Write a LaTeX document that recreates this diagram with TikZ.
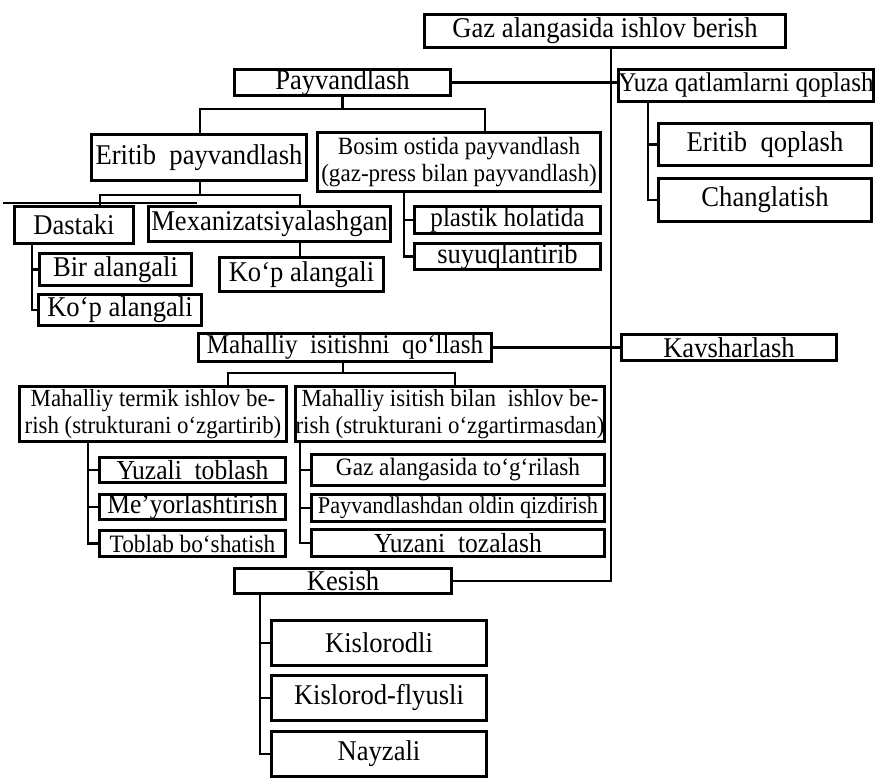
\documentclass[tikz,border=0pt]{standalone}
\usepackage{fontspec}
\setmainfont{Liberation Serif}[FakeStretch=0.93]
\newcommand\fsz[2]{\fontsize{#1}{#2}\selectfont}
\tikzset{
  box/.style={draw, line width=3.2pt, inner sep=0pt, align=center, font=\fsz{28.6}{32}},
  conn/.style={line width=2.6pt},
  stray/.style={line width=1.2pt},
}
\begin{document}
\begin{tikzpicture}[x=1pt,y=-1pt]
\useasboundingbox (0,0) rectangle (884,783);
% nodes
\node[box,line width=3pt,minimum width=361pt,minimum height=33pt] (gaz) at (605,31) {Gaz alangasida ishlov berish};
\node[box,minimum width=216pt,minimum height=26pt] (pay) at (342.5,82.5) {Payvandlash};
\node[box,minimum width=255pt,minimum height=32pt,font=\fsz{27}{30}] (yuza) at (746,85.5) {Yuza qatlamlarni qoplash};
\node[box,minimum width=213pt,minimum height=42pt] (eq) at (765,144.5) {Eritib\ \ qoplash};
\node[box,minimum width=213pt,minimum height=43pt] (ch) at (765,200) {Changlatish};
\node[box,minimum width=215pt,minimum height=46pt] (ep) at (199,157.5) {Eritib\ \ payvandlash};
\node[box,minimum width=283pt,minimum height=59pt,font=\fsz{24.8}{26.5}] (bos) at (459,162) {Bosim ostida payvandlash\\(gaz-press bilan payvandlash)};
\node[box,minimum width=119pt,minimum height=37pt] (das) at (74,225) {Dastaki};
\node[box,minimum width=242pt,minimum height=35pt] (mex) at (269.5,224) {Mexanizatsiyalashgan};
\node[box,minimum width=152pt,minimum height=32pt] (bir) at (115.5,269.5) {Bir alangali};
\node[box,minimum width=163pt,minimum height=31pt] (kop1) at (120,310) {Ko‘p alangali};
\node[box,minimum width=164pt,minimum height=34pt] (kop2) at (301.5,274.5) {Ko‘p alangali};
\node[box,minimum width=186pt,minimum height=27pt,font=\fsz{27}{30}] (pl) at (507.5,220) {plastik holatida};
\node[box,minimum width=186pt,minimum height=26pt] (suy) at (507.5,256.5) {suyuqlantirib};
\node[box,minimum width=293pt,minimum height=28pt,font=\fsz{27}{30}] (mah) at (345,347.5) {Mahalliy\ \ isitishni\ \ qo‘llash};
\node[box,minimum width=215pt,minimum height=26pt] (kav) at (729,347.5) {Kavsharlash};
\node[box,minimum width=267pt,minimum height=55pt,font=\fsz{24.6}{27.5}] (ter) at (153,414) {Mahalliy termik ishlov be-\\rish (strukturani o‘zgartirib)};
\node[box,minimum width=307pt,minimum height=55pt,font=\fsz{24.6}{27.5}] (isi) at (450,414) {Mahalliy isitish bilan\ \ ishlov be-\\rish (strukturani o‘zgartirmasdan)};
\node[box,minimum width=186pt,minimum height=25pt,font=\fsz{27.5}{30}] (yuz) at (192.5,470) {Yuzali\ \ toblash};
\node[box,minimum width=186pt,minimum height=25pt,font=\fsz{27.5}{30}] (mey) at (192.5,507) {Me’yorlashtirish};
\node[box,minimum width=186pt,minimum height=26pt,font=\fsz{25}{28}] (tob) at (192.5,543.5) {Toblab bo‘shatish};
\node[box,minimum width=293pt,minimum height=31pt,font=\fsz{25}{28}] (gz2) at (458,470) {Gaz alangasida to‘g‘rilash};
\node[box,minimum width=293pt,minimum height=27pt,font=\fsz{24}{27}] (pvd) at (458,508) {Payvandlashdan oldin qizdirish};
\node[box,minimum width=293pt,minimum height=27pt,font=\fsz{27.5}{30}] (yzt) at (458,543) {Yuzani\ \ tozalash};
\node[box,minimum width=217pt,minimum height=25pt] (kes) at (343,581) {Kesish};
\node[box,minimum width=215pt,minimum height=45pt] (kis) at (379,643) {Kislorodli};
\node[box,minimum width=215pt,minimum height=45pt] (kf) at (379,698) {Kislorod-flyusli};
\node[box,minimum width=215pt,minimum height=45pt] (nay) at (379,754) {Nayzali};
% helper coordinates
\coordinate (tr) at (611,0);
\coordinate (p1) at (343,109);
\coordinate (epx) at (200,0);
\coordinate (bsx) at (485,0);
\coordinate (e1) at (200,195);
\coordinate (dx) at (100,0);
\coordinate (mx) at (300,0);
\coordinate (dsx) at (32,0);
\coordinate (bcx) at (404,0);
\coordinate (ycx) at (648,0);
\coordinate (m1) at (343,373);
\coordinate (tlx) at (228,0);
\coordinate (irx) at (455,0);
\coordinate (tcx) at (88,0);
\coordinate (icx) at (300,0);
\coordinate (kcx) at (260,0);
\coordinate (s1) at (3,203);
\coordinate (s2) at (197,203);
% connectors
\draw[conn] (gaz.south -| tr) |- (kes.east);
\draw[conn] (pay.east) -- (pay.east -| yuza.west);
\draw[conn] (mah.east) -- (kav.west);
\draw[conn] (pay.south) -- (pay.south |- p1);
\draw[conn] (ep.north -| epx) |- (p1) -| (bos.north -| bsx);
\draw[conn] (ep.south -| epx) -- (e1);
\draw[conn] (das.north -| dx) |- (e1) -| (mex.north -| mx);
\draw[conn] (das.south -| dsx) |- (kop1.west);
\draw[conn] (bir.west) -- (bir.west -| dsx);
\draw[conn] (mex.south -| mx) -- (kop2.north -| mx);
\draw[conn] (bos.south -| bcx) |- (suy.west);
\draw[conn] (pl.west) -- (pl.west -| bcx);
\draw[conn] (yuza.south -| ycx) |- (ch.west);
\draw[conn] (eq.west) -- (eq.west -| ycx);
\draw[conn] (mah.south -| m1) -- (m1);
\draw[conn] (ter.north -| tlx) |- (m1) -| (isi.north -| irx);
\draw[conn] (ter.south -| tcx) |- (tob.west);
\draw[conn] (yuz.west) -- (yuz.west -| tcx);
\draw[conn] (mey.west) -- (mey.west -| tcx);
\draw[conn] (isi.south -| icx) |- (yzt.west);
\draw[conn] (gz2.west) -- (gz2.west -| icx);
\draw[conn] (pvd.west) -- (pvd.west -| icx);
\draw[conn] (kes.south -| kcx) |- (nay.west);
\draw[conn] (kis.west) -- (kis.west -| kcx);
\draw[conn] (kf.west) -- (kf.west -| kcx);
\draw[stray] (s1) -- (s2);
\end{tikzpicture}
\end{document}
